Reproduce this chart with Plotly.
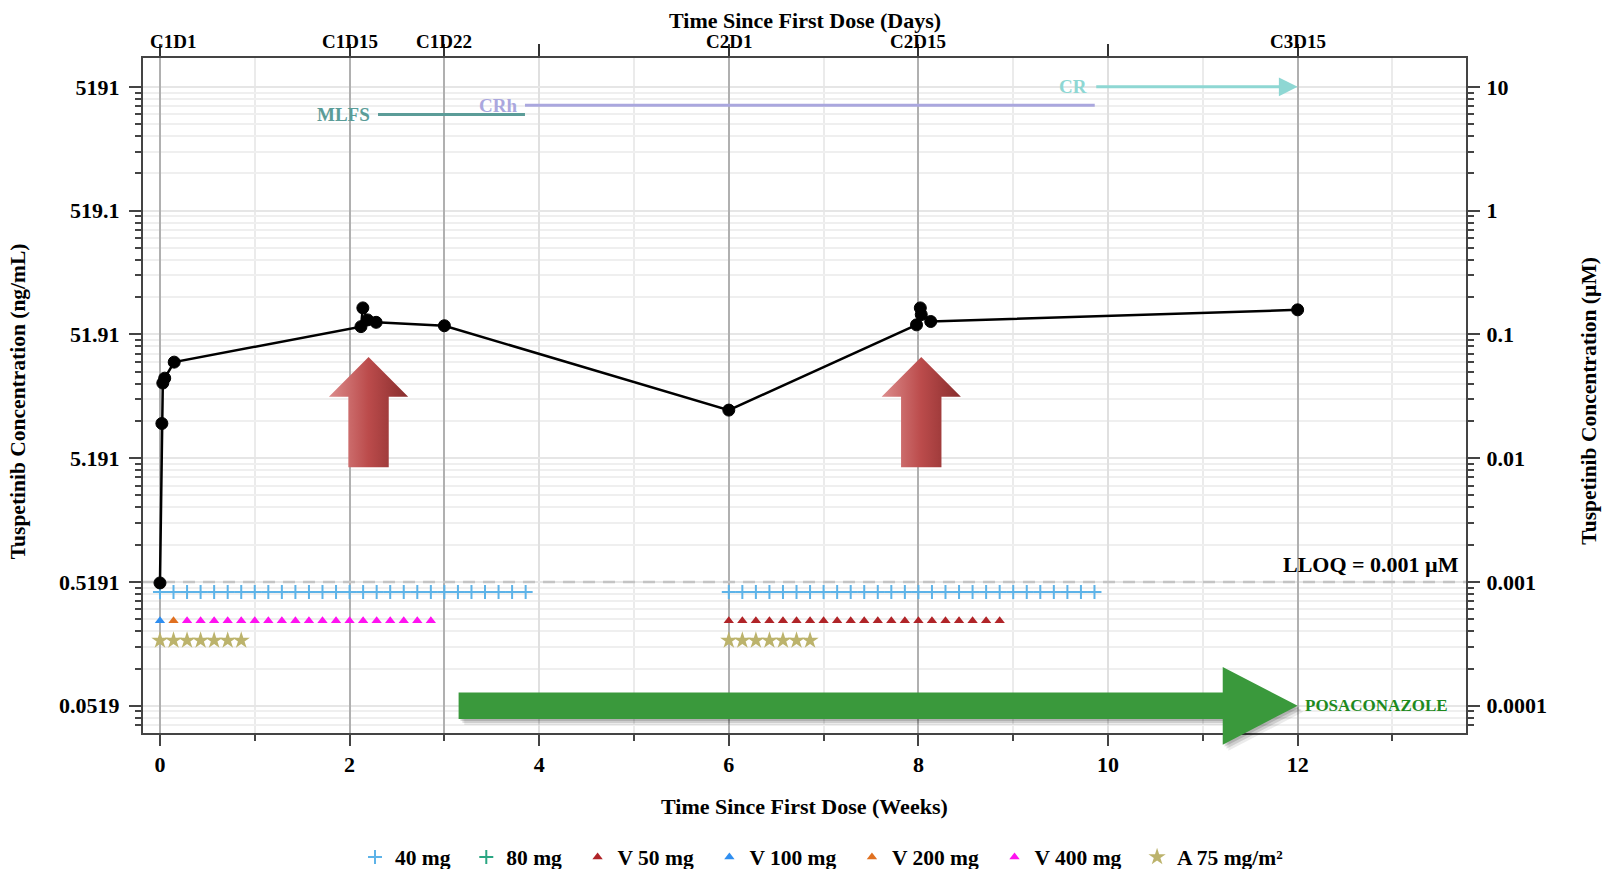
import math
import plotly.graph_objects as go

# ---------------------------------------------------------------- data
MW = 519.1  # ng/mL that correspond to 1 µM

# PK samples: time (weeks) and concentration (ng/mL)
pk_weeks = [0.0, 0.02, 0.03, 0.05, 0.15, 2.12, 2.14, 2.19, 2.28, 3.0,
            6.0, 7.98, 8.02, 8.03, 8.13, 12.0]
pk_conc = [0.51, 9.9, 21.0, 23.0, 31.0, 60.0, 85.0, 68.0, 65.0, 61.0,
           12.7, 62.0, 85.0, 75.0, 66.0, 82.0]

# dosing days for each regimen
days_40mg = [0, 1, 2, 3, 4, 5, 6, 7, 8, 9, 10, 11, 12, 13, 14, 15, 16, 17, 18,
             19, 20, 21, 22, 23, 24, 25, 26, 27,
             42, 43, 44, 45, 46, 47, 48, 49, 50, 51, 52, 53, 54, 55, 56, 57, 58,
             59, 60, 61, 62, 63, 64, 65, 66, 67, 68, 69]
days_80mg = []
days_v50 = [42, 43, 44, 45, 46, 47, 48, 49, 50, 51, 52, 53, 54, 55, 56, 57, 58,
            59, 60, 61, 62]
days_v100 = [0]
days_v200 = [1]
days_v400 = [2, 3, 4, 5, 6, 7, 8, 9, 10, 11, 12, 13, 14, 15, 16, 17, 18, 19, 20]
days_a75 = [0, 1, 2, 3, 4, 5, 6, 42, 43, 44, 45, 46, 47, 48]

# cycle/day visits on the top axis
visit_labels = ["C1D1", "C1D15", "C1D22", "C2D1", "C2D15", "C3D15"]
visit_weeks = [0, 2, 3, 6, 8, 12]

# response assessments
resp_labels = ["MLFS", "CRh", "CR"]
resp_start_wk = [2.30, 3.85, 9.86]
resp_end_wk = [3.85, 9.86, 12.0]

# concomitant posaconazole
posa_start_wk = 3.15
posa_end_wk = 12.0

# upward markers at the C1D15 and C2D15 visits
up_arrow_wk = [2.20, 8.03]

LLOQ_UM = 0.001

# axis ticks
um_ticks = [10, 1, 0.1, 0.01, 0.001, 0.0001]
um_labels = ["10", "1", "0.1", "0.01", "0.001", "0.0001"]
ng_labels = ["5191", "519.1", "51.91", "5.191", "0.5191", "0.0519"]

# ---------------------------------------------------------------- styling
SERIF = "Liberation Serif"


def bold(size, color="#000000"):
    return dict(family=SERIF, size=size, color=color, weight="bold")


dose_styles = [
    ("40 mg", days_40mg, "cross-thin", "#5db3e8", 0.43, 10),
    ("80 mg", days_80mg, "cross-thin", "#2aa682", 0.43, 10),
    ("V 50 mg", days_v50, "triangle-up", "#b02428", 0.252, 9),
    ("V 100 mg", days_v100, "triangle-up", "#2f8ef0", 0.252, 9),
    ("V 200 mg", days_v200, "triangle-up", "#e07020", 0.252, 9),
    ("V 400 mg", days_v400, "triangle-up", "#ff12f0", 0.252, 9),
    ("A 75 mg/m²", days_a75, "star", "#bcb36c", 0.175, 13),
]
resp_colors = ["#5b9c98", "#aaa7de", "#8ed7d3"]
resp_level = [3100, 3680, 5191]  # vertical placement (ng/mL)

x_range = [-0.179, 13.776]
y_log_range = [math.log10(0.05191) - 0.22, math.log10(5191) + 0.233]
y2_log_range = [v - math.log10(MW) for v in y_log_range]


def y_paper(v):
    return (math.log10(v) - y_log_range[0]) / (y_log_range[1] - y_log_range[0])


minor_um = [m * 10.0 ** k for k in range(-5, 2) for m in range(2, 10)]
minor_ng = [MW * u for u in minor_um]

fig = go.Figure()

# dosing rows
for name, days, sym, col, level, size in dose_styles:
    xs = [d / 7 for d in days] if days else [None]
    ys = [level] * len(days) if days else [None]
    if sym == "cross-thin":
        marker = dict(symbol=sym, size=size, line=dict(color=col, width=2))
    else:
        marker = dict(symbol=sym, size=size, color=col, line=dict(width=0))
    fig.add_trace(go.Scatter(x=xs, y=ys, mode="markers",
                             name=name + "\u2002", marker=marker,
                             hoverinfo="skip"))

# response phases
for lab, x0, x1, col, lev in zip(resp_labels, resp_start_wk, resp_end_wk,
                                 resp_colors, resp_level):
    if lab != "CR":
        fig.add_trace(go.Scatter(x=[x0, x1], y=[lev, lev], mode="lines",
                                 line=dict(color=col, width=3),
                                 showlegend=False, hoverinfo="skip"))
    else:
        fig.add_annotation(x=x1, y=math.log10(lev), ax=x0, ay=math.log10(lev),
                           xref="x", yref="y", axref="x", ayref="y", text="",
                           showarrow=True, arrowhead=2, arrowsize=1.25,
                           arrowwidth=3, arrowcolor=col)
    fig.add_annotation(x=x0, y=math.log10(lev), xref="x", yref="y",
                       text=f"<b>{lab}</b>", showarrow=False,
                       xanchor="right", xshift=-6, font=bold(19, col))

# red upward block arrows with a horizontal gradient
shaft_hw, head_hw = 0.213, 0.418
tip_v, base_v, foot_v = 34.1, 16.3, 4.38
for c in up_arrow_wk:
    ax_ = [c - shaft_hw, c - shaft_hw, c - head_hw, c, c + head_hw,
           c + shaft_hw, c + shaft_hw, c - shaft_hw]
    ay_ = [foot_v, base_v, base_v, tip_v, base_v, base_v, foot_v, foot_v]
    fig.add_trace(go.Scatter(
        x=ax_, y=ay_, mode="lines", fill="toself",
        fillgradient=dict(type="horizontal",
                          colorscale=[[0, "#dc8c8c"], [0.5, "#bb4b4b"],
                                      [1, "#872d2d"]]),
        line=dict(width=0, color="rgba(0,0,0,0)"),
        showlegend=False, hoverinfo="skip"))

# LLOQ reference line
fig.add_trace(go.Scatter(x=x_range, y=[LLOQ_UM * MW] * 2, mode="lines",
                         line=dict(color="#c4c4c4", width=2.5, dash="12px,8px"),
                         showlegend=False, hoverinfo="skip"))

# PK profile
fig.add_trace(go.Scatter(x=pk_weeks, y=pk_conc, mode="lines+markers",
                         line=dict(color="black", width=2.5),
                         marker=dict(color="black", size=12,
                                     line=dict(color="black", width=1)),
                         showlegend=False, hoverinfo="skip"))

# carrier trace for the secondary axes
fig.add_trace(go.Scatter(x=[None], y=[None], xaxis="x2", yaxis="y2",
                         showlegend=False, hoverinfo="skip"))

# posaconazole arrow (with a soft drop shadow)
shaft_half, head_half, head_len = 0.107, 0.314, 0.79
lc = math.log10(0.05191)


def arrow_path(dx=0.0, dy=0.0):
    ys_t = y_paper(10 ** (lc + shaft_half)) + dy
    ys_b = y_paper(10 ** (lc - shaft_half)) + dy
    yh_t = y_paper(10 ** (lc + head_half)) + dy
    yh_b = y_paper(10 ** (lc - head_half)) + dy
    yc = y_paper(10 ** lc) + dy
    x0 = posa_start_wk + dx
    xs = posa_end_wk - head_len + dx
    xt = posa_end_wk + dx
    return (f"M {x0},{ys_t} L {xs},{ys_t} L {xs},{yh_t} L {xt},{yc} "
            f"L {xs},{yh_b} L {xs},{ys_b} L {x0},{ys_b} Z")


for dx, dy, a in [(0.06, -0.009, 0.08), (0.04, -0.006, 0.12), (0.02, -0.003, 0.14)]:
    fig.add_shape(type="path", path=arrow_path(dx, dy), xref="x", yref="paper",
                  fillcolor=f"rgba(0,0,0,{a})", line=dict(width=0), layer="above")
fig.add_shape(type="path", path=arrow_path(), xref="x", yref="paper",
              fillcolor="#3a993c", line=dict(width=0), layer="above")
fig.add_annotation(x=posa_end_wk, y=lc, xref="x", yref="y",
                   text="<b>POSACONAZOLE</b>", showarrow=False,
                   xanchor="left", xshift=5, font=bold(17, "#1e8a1e"))

# LLOQ label
fig.add_annotation(x=0.996, xref="paper", y=math.log10(LLOQ_UM), yref="y2",
                   text="<b>LLOQ = 0.001 µM</b>", showarrow=False,
                   xanchor="right", yanchor="bottom", yshift=3, font=bold(22))

# visit labels along the top axis (first one kept inside the frame)
for i, (lab, wk) in enumerate(zip(visit_labels, visit_weeks)):
    fig.add_annotation(x=wk, xref="x", y=1.024, yref="paper",
                       text=f"<b>{lab}</b>", showarrow=False,
                       xanchor="left" if i == 0 else "center",
                       xshift=-12 if i == 0 else 0,
                       yanchor="middle", font=bold(19))

# axis titles
fig.add_annotation(x=0.5, y=1.0556, xref="paper", yref="paper",
                   text="<b>Time Since First Dose (Days)</b>", showarrow=False,
                   font=bold(22), xanchor="center", yanchor="middle")
fig.add_annotation(x=0.5, y=-0.1096, xref="paper", yref="paper",
                   text="<b>Time Since First Dose (Weeks)</b>", showarrow=False,
                   font=bold(22), xanchor="center", yanchor="middle")
fig.add_annotation(x=-0.0942, y=0.492, xref="paper", yref="paper",
                   text="<b>Tuspetinib Concentration (ng/mL)</b>", showarrow=False,
                   textangle=-90, font=bold(21.5), xanchor="center",
                   yanchor="middle")
fig.add_annotation(x=1.0928, y=0.492, xref="paper", yref="paper",
                   text="<b>Tuspetinib Concentration (µM)</b>", showarrow=False,
                   textangle=-90, font=bold(21.5), xanchor="center",
                   yanchor="middle")

AX = "#444444"
fig.update_layout(
    width=1604, height=869,
    margin=dict(l=143, r=138, t=58, b=136, autoexpand=False),
    paper_bgcolor="white", plot_bgcolor="white",
    legend=dict(orientation="h", x=0.517, xanchor="center", y=-0.1837,
                yanchor="middle", font=bold(21.5), itemwidth=30,
                bgcolor="rgba(0,0,0,0)"),
    xaxis=dict(range=x_range, tick0=0, dtick=2, ticks="outside", ticklen=11,
               tickwidth=2, tickcolor=AX, showline=True, linecolor=AX,
               linewidth=2, showgrid=True, gridcolor="#e0e0e0", gridwidth=1.5,
               zeroline=False, tickfont=bold(22), ticklabelstandoff=0,
               minor=dict(tick0=0, dtick=1, ticks="outside", ticklen=6,
                          tickwidth=2, tickcolor=AX, showgrid=True,
                          gridcolor="#ebebeb", gridwidth=1.5)),
    xaxis2=dict(overlaying="x", side="top", anchor="y", range=x_range,
                tickmode="array", tickvals=visit_weeks, showticklabels=False,
                ticks="outside", ticklen=12, tickwidth=2, tickcolor="#333333",
                showline=True, linecolor=AX, linewidth=2, showgrid=True,
                gridcolor="#b0b0b0", gridwidth=1.5, zeroline=False,
                minor=dict(tickmode="array", tickvals=[4, 10], ticks="outside",
                           ticklen=12, tickwidth=2, tickcolor="#333333",
                           showgrid=False)),
    yaxis=dict(type="log", range=y_log_range, tickmode="array",
               tickvals=[MW * u for u in um_ticks], ticktext=ng_labels,
               ticks="outside", ticklen=12, tickwidth=2, tickcolor=AX,
               showline=True, linecolor=AX, linewidth=2, showgrid=True,
               gridcolor="#e6e6e6", gridwidth=1.5, zeroline=False,
               tickfont=bold(22), ticklabelstandoff=5,
               minor=dict(tickmode="array", tickvals=minor_ng, ticks="outside",
                          ticklen=6, tickwidth=1.5, tickcolor=AX, showgrid=True,
                          gridcolor="#efefef", gridwidth=1.5)),
    yaxis2=dict(type="log", overlaying="y", side="right", anchor="x",
                range=y2_log_range, tickmode="array", tickvals=um_ticks,
                ticktext=um_labels, ticks="outside", ticklen=12, tickwidth=2,
                tickcolor=AX, showline=True, linecolor=AX, linewidth=2,
                showgrid=False, zeroline=False, tickfont=bold(22),
                ticklabelstandoff=2,
                minor=dict(tickmode="array", tickvals=minor_um, ticks="outside",
                           ticklen=6, tickwidth=1.5, tickcolor=AX,
                           showgrid=False)),
)

fig.write_html("out.html")
